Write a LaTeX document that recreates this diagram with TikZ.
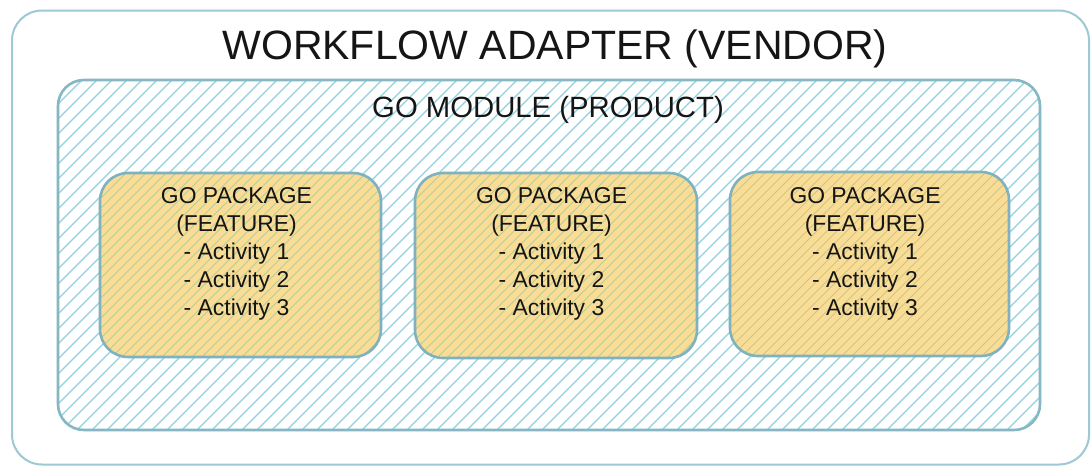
\documentclass[tikz,border=0pt]{standalone}
\usepackage{fontspec}
\setmainfont{Liberation Sans}
\begin{document}
\begin{tikzpicture}[x=1pt,y=-1pt,
  txt/.style={text=textc,inner sep=0pt},
  outerbox/.style={draw=outerc,line width=2pt,rounded corners=30pt},
  modbox/.style={draw=modc,line width=2.6pt,rounded corners=26pt},
  pkgbox/.style={draw=pkgc,line width=2.6pt,rounded corners=28pt,inner sep=0pt},
  hatch/.style={draw=hatchc,line width=1.2pt},
  phatch/.style={draw=phatchc,line width=0.9pt},
  pkgtext/.style={txt,align=center,font=\fontsize{22.9}{28}\selectfont}
]
\definecolor{outerc}{HTML}{9DC9D2}
\definecolor{modc}{HTML}{86B8C3}
\definecolor{pkgc}{HTML}{7FB2BE}
\definecolor{hatchc}{HTML}{8ED2DE}
\definecolor{pkgfill}{HTML}{FADC95}
\definecolor{phatchc}{HTML}{BACB94}
\definecolor{textc}{HTML}{151515}
\useasboundingbox (0,0) rectangle (1092,466);
\fill[white] (0,0) rectangle (1092,466);
% outer box
\node[outerbox,minimum width=1077pt,minimum height=454pt,inner sep=0pt] (outer) at (550.5,237.5) {};
% module box hatching
\begin{scope}
  \clip[rounded corners=26pt] (58,80) rectangle (1040,430);
  \foreach \i in {-360,-345,...,1050} {
    \draw[hatch] (\i,432) -- ++(360,-360);
  }
\end{scope}
\node[modbox,minimum width=982pt,minimum height=350pt,inner sep=0pt] (module) at (549,255) {};
% package fills and hatching
\foreach \n/\xa/\xb/\ya/\yb in {1/100/381/173/357, 2/415/697/173/358, 3/730/1009/172/356} {
  \begin{scope}
    \fill[pkgfill,rounded corners=28pt] (\xa,\ya) rectangle (\xb,\yb);
    \clip[rounded corners=28pt] (\xa,\ya) rectangle (\xb,\yb);
    \foreach \i in {-200,-190,...,300} {
      \draw[phatch] (\xa+\i,\yb+2) -- ++(200,-200);
    }
  \end{scope}
}
\node[pkgbox,minimum width=281pt,minimum height=184pt] (pkg1) at (240.5,265) {};
\node[pkgbox,minimum width=282pt,minimum height=185pt] (pkg2) at (556,265.5) {};
\node[pkgbox,minimum width=279pt,minimum height=184pt] (pkg3) at (869.5,264) {};
% texts
\node[txt,anchor=base,font=\fontsize{41}{48}\selectfont] (title) at (555,59) {WORKFLOW ADAPTER (VENDOR)};
\node[txt,anchor=base,font=\fontsize{29.3}{34}\selectfont] (modlabel) at (548,117) {GO MODULE (PRODUCT)};
\node[pkgtext] (pkg1text) at ([xshift=-4pt,yshift=11.5pt]pkg1.center) {GO PACKAGE\\(FEATURE)\\- Activity 1\\- Activity 2\\- Activity 3};
\node[pkgtext] (pkg2text) at ([xshift=-4.5pt,yshift=12pt]pkg2.center) {GO PACKAGE\\(FEATURE)\\- Activity 1\\- Activity 2\\- Activity 3};
\node[pkgtext] (pkg3text) at ([xshift=-4.5pt,yshift=10.5pt]pkg3.center) {GO PACKAGE\\(FEATURE)\\- Activity 1\\- Activity 2\\- Activity 3};
\end{tikzpicture}
\end{document}
